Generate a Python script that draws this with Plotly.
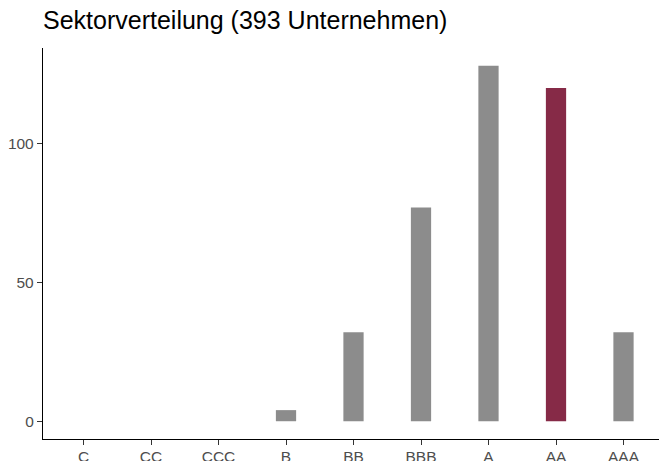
import plotly.graph_objects as go

categories = ["C", "CC", "CCC", "B", "BB", "BBB", "A", "AA", "AAA"]
counts = [0, 0, 0, 4, 32, 77, 128, 120, 32]
highlight = "AA"
title_text = "Sektorverteilung (393 Unternehmen)"

grey = "#8C8C8C"
maroon = "#862A47"
colors = [maroon if c == highlight else grey for c in categories]

fig = go.Figure(
    go.Bar(
        x=categories,
        y=counts,
        marker=dict(color=colors, line=dict(width=0)),
        width=0.3,
        hoverinfo="x+y",
    )
)

axis_common = dict(
    showline=True,
    linecolor="black",
    linewidth=1.3,
    ticks="outside",
    ticklen=5,
    tickwidth=1.1,
    tickcolor="#333333",
    showgrid=False,
    zeroline=False,
    automargin=False,
    tickfont=dict(size=15.5, color="#4D4D4D"),
)

# the page body adds an 8px offset; size the figure to fill the 667x461 window
fig_w, fig_h = 659, 453

fig.update_layout(
    width=fig_w,
    height=fig_h,
    autosize=False,
    paper_bgcolor="white",
    plot_bgcolor="white",
    margin=dict(l=35, r=3, t=40, b=22),
    showlegend=False,
    font=dict(family="Liberation Sans, Arial, sans-serif", color="#4D4D4D", size=15.5),
    title=dict(
        text=title_text,
        font=dict(size=25, color="black", family="Liberation Sans, Arial, sans-serif"),
        x=0.0,
        xref="paper",
        xanchor="left",
        y=1 - 12 / fig_h,
        yref="container",
        yanchor="middle",
    ),
    xaxis=dict(type="category", range=[-0.6, 8.6], ticklabelstandoff=-2, **axis_common),
    yaxis=dict(range=[-6.4, 134.4], tickvals=[0, 50, 100], **axis_common),
)

fig.write_html("out.html")
